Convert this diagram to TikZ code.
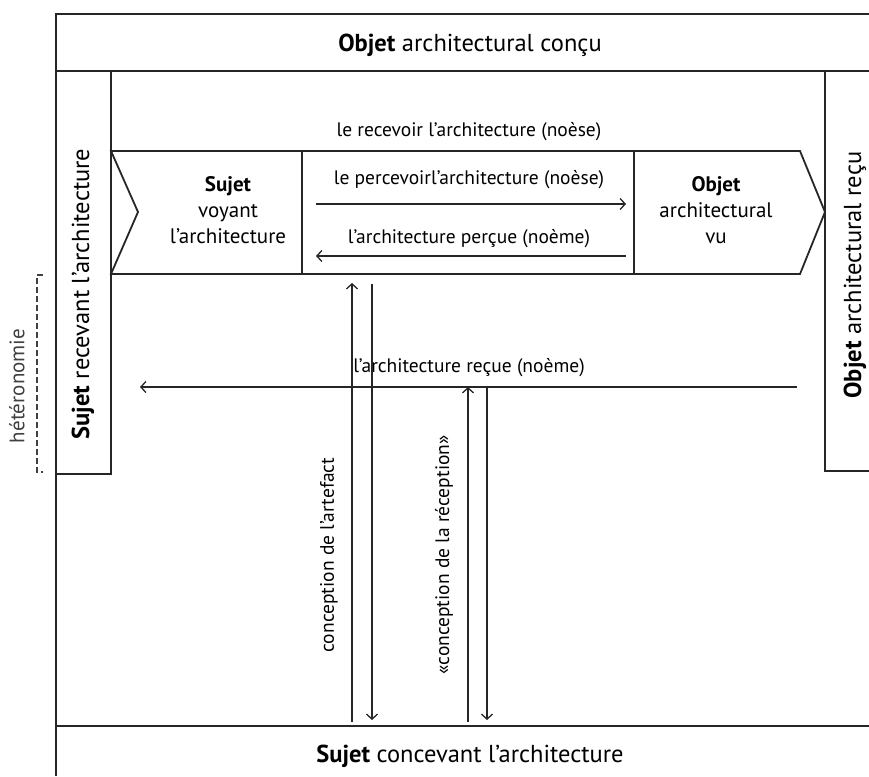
\documentclass[tikz,border=0pt]{standalone}
\usepackage{fontspec}
\setmainfont{PT Sans}
\usetikzlibrary{arrows.meta}
\begin{document}
\begin{tikzpicture}[x=1pt,y=-1pt,
  ln/.style={line width=1.8pt,draw=black!85},
  thin/.style={line width=1.3pt,draw=black!85},
  arr/.style={thin,-{Straight Barb[length=5pt,width=11pt,line width=1.3pt]}},
  big/.style={font=\fontsize{24.5}{26}\selectfont,inner sep=0pt},
  mid/.style={font=\fontsize{21}{26}\selectfont,inner sep=0pt,align=center},
  sm/.style={font=\fontsize{19.5}{21}\selectfont,inner sep=0pt}]
\useasboundingbox (0,0) rectangle (869,776);
% frame
\draw[ln] (869,14) -- (56,14) -- (56,776);
\draw[ln] (56,71) -- (869,71);
\draw[ln] (56,726) -- (869,726);
\draw[ln] (111,71) -- (111,474) -- (56,474);
\draw[ln] (825,71) -- (825,471) -- (869,471);
% chevron
\draw[ln] (111,151) -- (800,151) -- (825,212) -- (800,274) -- (111,274) -- (138,212) -- cycle;
\draw[ln] (302,151) -- (302,274);
\draw[ln] (634,151) -- (634,274);
% texts
\node[big] (title) at (470,45) {\textbf{Objet} architectural conçu};
\node[big] (bottom) at (470,756) {\textbf{Sujet} concevant l’architecture};
\node[big,rotate=90] (left) at (83,294) {\textbf{Sujet} recevant l’architecture};
\node[big,rotate=90] (right) at (855,275) {\textbf{Objet} architectural reçu};
\node[sm] (recevoir) at (469,132) {le recevoir l'architecture (noèse)};
\node[mid] (sujet) at (228,210) {\textbf{Sujet}\\voyant\\l’architecture};
\node[mid] (objet) at (716,210) {\textbf{Objet}\\architectural\\vu};
\node[sm] (perc) at (469,180) {le percevoirl'architecture (noèse)};
\node[sm] (percue) at (469,239) {l'architecture perçue (noème)};
\node[sm] (recue) at (469,368) {l'architecture reçue (noème)};
\node[sm,rotate=90] (artefact) at (329,555) {conception de l'artefact};
\node[sm,rotate=90] (reception) at (444,555) {«conception de la réception»};
\node[sm,rotate=90,text=black!75,font=\fontsize{21}{23}\selectfont] (hetero) at (17,386) {hétéronomie};
% coordinates
\coordinate (p1) at (316,204); \coordinate (p2) at (626,204);
\coordinate (q1) at (626,256); \coordinate (q2) at (316,256);
\coordinate (r1) at (797,387); \coordinate (r2) at (140,387);
\coordinate (a1) at (352,722); \coordinate (a2) at (352,283);
\coordinate (b1) at (372,284); \coordinate (b2) at (372,720);
\coordinate (c1) at (468,722); \coordinate (c2) at (468,387);
\coordinate (d1) at (487,387); \coordinate (d2) at (487,720);
\coordinate (h1) at (43,275); \coordinate (h2) at (43,472);
% arrows
\draw[arr] (p1) -- (p2);
\draw[arr] (q1) -- (q2);
\draw[arr] (r1) -- (r2);
\draw[arr] (a1) -- (a2);
\draw[arr] (b1) -- (b2);
\draw[arr] (c1) -- (c2);
\draw[arr] (d1) -- (d2);
\draw[line width=1.1pt,draw=black!75,dash pattern=on 6pt off 3pt] (h1) -- ++(-6,0) |- (h2);
\end{tikzpicture}
\end{document}
